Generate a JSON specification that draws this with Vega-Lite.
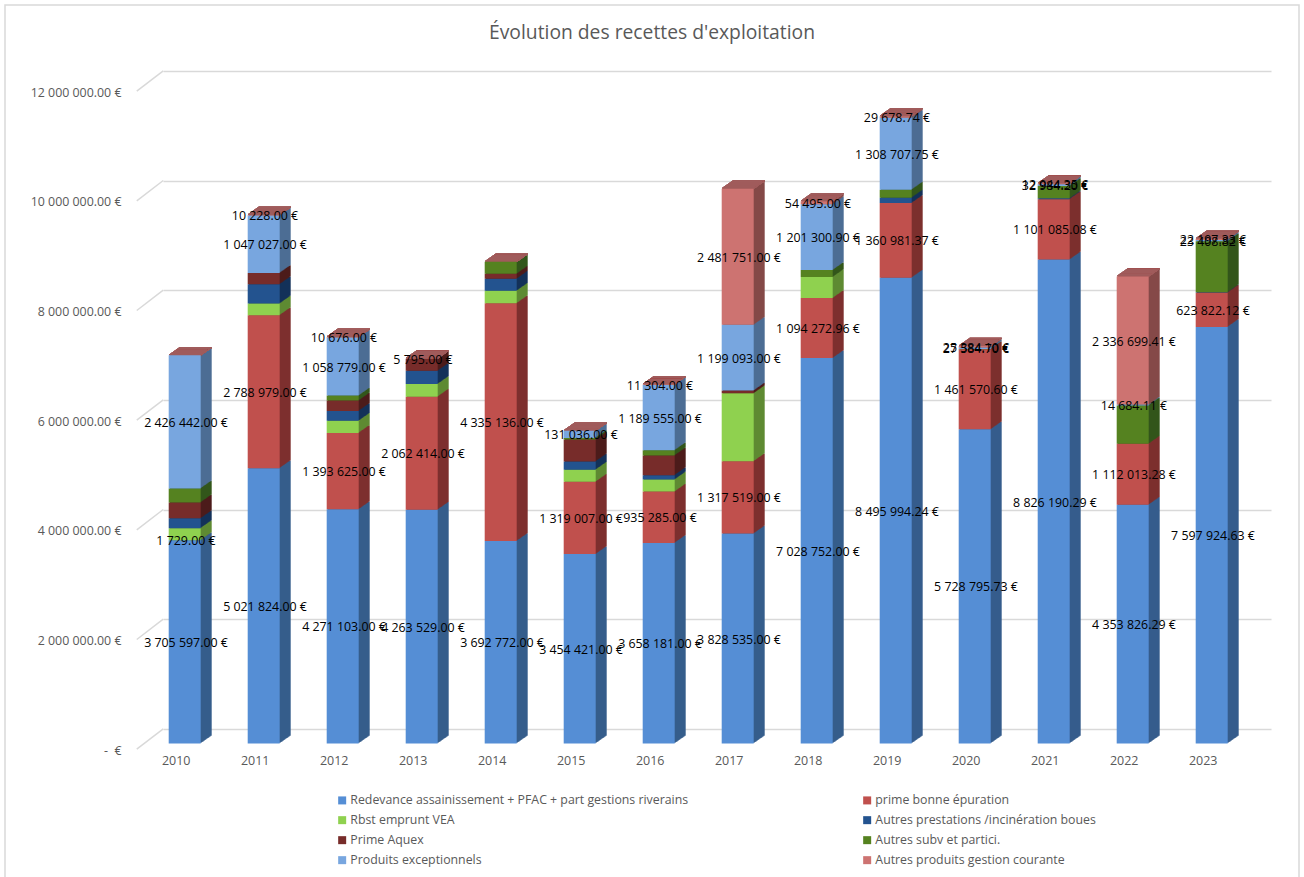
{
"$schema":"https://vega.github.io/schema/vega-lite/v6.json",
"width":1108,"height":658,
"autosize":{"type":"none"},
"padding":{"left":163,"top":71,"right":33,"bottom":148},
"background":"white",
"title":{"text":"Évolution des recettes d'exploitation","font":"Open Sans","fontSize":19.3,"fontWeight":"normal","color":"#595959","anchor":"middle","dx":-65,"offset":-39},
"config":{"view":{"stroke":null},"font":"Open Sans"},
"layer":[
{"data":{"values":[{}]},"mark":{"type":"rect","fill":"transparent","stroke":"#d9d9d9","strokeWidth":1.5},"encoding":{"x":{"value":-158},"x2":{"value":1136},"y":{"value":-66},"y2":{"value":830}}},
{"data":{"values":[{"palier":0},{"palier":2000000},{"palier":4000000},{"palier":6000000},{"palier":8000000},{"palier":10000000},{"palier":12000000}]},
 "mark":{"type":"point","shape":"M-1,0.77L1,-0.77","filled":false,"stroke":"#d9d9d9","strokeWidth":1.5,"size":700,"opacity":1,"xOffset":-53.5,"yOffset":10},
 "encoding":{"x":{"datum":"2010","type":"nominal"},"y":{"field":"palier","type":"quantitative"}}},
{"data":{"values":[
{"annee":"2010","serie":"Redevance assainissement + PFAC + part gestions riverains","montant":3705597},
{"annee":"2010","serie":"prime bonne épuration","montant":1729},
{"annee":"2010","serie":"Rbst emprunt VEA","montant":220000},
{"annee":"2010","serie":"Autres prestations /incinération boues","montant":180000},
{"annee":"2010","serie":"Prime Aquex","montant":290000},
{"annee":"2010","serie":"Autres subv et partici.","montant":255000},
{"annee":"2010","serie":"Produits exceptionnels","montant":2426442},
{"annee":"2011","serie":"Redevance assainissement + PFAC + part gestions riverains","montant":5021824},
{"annee":"2011","serie":"prime bonne épuration","montant":2788979},
{"annee":"2011","serie":"Rbst emprunt VEA","montant":213000},
{"annee":"2011","serie":"Autres prestations /incinération boues","montant":352000},
{"annee":"2011","serie":"Prime Aquex","montant":206000},
{"annee":"2011","serie":"Produits exceptionnels","montant":1047027},
{"annee":"2011","serie":"Autres produits gestion courante","montant":10228},
{"annee":"2012","serie":"Redevance assainissement + PFAC + part gestions riverains","montant":4271103},
{"annee":"2012","serie":"prime bonne épuration","montant":1393625},
{"annee":"2012","serie":"Rbst emprunt VEA","montant":220000},
{"annee":"2012","serie":"Autres prestations /incinération boues","montant":180000},
{"annee":"2012","serie":"Prime Aquex","montant":190000},
{"annee":"2012","serie":"Autres subv et partici.","montant":90000},
{"annee":"2012","serie":"Produits exceptionnels","montant":1058779},
{"annee":"2012","serie":"Autres produits gestion courante","montant":10676},
{"annee":"2013","serie":"Redevance assainissement + PFAC + part gestions riverains","montant":4263529},
{"annee":"2013","serie":"prime bonne épuration","montant":2062414},
{"annee":"2013","serie":"Rbst emprunt VEA","montant":230000},
{"annee":"2013","serie":"Autres prestations /incinération boues","montant":240000},
{"annee":"2013","serie":"Prime Aquex","montant":220000},
{"annee":"2013","serie":"Autres produits gestion courante","montant":5795},
{"annee":"2014","serie":"Redevance assainissement + PFAC + part gestions riverains","montant":3692772},
{"annee":"2014","serie":"prime bonne épuration","montant":4335136},
{"annee":"2014","serie":"Rbst emprunt VEA","montant":228000},
{"annee":"2014","serie":"Autres prestations /incinération boues","montant":219000},
{"annee":"2014","serie":"Prime Aquex","montant":91000},
{"annee":"2014","serie":"Autres subv et partici.","montant":219000},
{"annee":"2015","serie":"Redevance assainissement + PFAC + part gestions riverains","montant":3454421},
{"annee":"2015","serie":"prime bonne épuration","montant":1319007},
{"annee":"2015","serie":"Rbst emprunt VEA","montant":220000},
{"annee":"2015","serie":"Autres prestations /incinération boues","montant":150000},
{"annee":"2015","serie":"Prime Aquex","montant":400000},
{"annee":"2015","serie":"Autres subv et partici.","montant":30000},
{"annee":"2015","serie":"Produits exceptionnels","montant":131036},
{"annee":"2016","serie":"Redevance assainissement + PFAC + part gestions riverains","montant":3658181},
{"annee":"2016","serie":"prime bonne épuration","montant":935285},
{"annee":"2016","serie":"Rbst emprunt VEA","montant":220000},
{"annee":"2016","serie":"Autres prestations /incinération boues","montant":80000},
{"annee":"2016","serie":"Prime Aquex","montant":360000},
{"annee":"2016","serie":"Autres subv et partici.","montant":95000},
{"annee":"2016","serie":"Produits exceptionnels","montant":1189555},
{"annee":"2016","serie":"Autres produits gestion courante","montant":11304},
{"annee":"2017","serie":"Redevance assainissement + PFAC + part gestions riverains","montant":3828535},
{"annee":"2017","serie":"prime bonne épuration","montant":1317519},
{"annee":"2017","serie":"Rbst emprunt VEA","montant":1240000},
{"annee":"2017","serie":"Prime Aquex","montant":50000},
{"annee":"2017","serie":"Produits exceptionnels","montant":1199093},
{"annee":"2017","serie":"Autres produits gestion courante","montant":2481751},
{"annee":"2018","serie":"Redevance assainissement + PFAC + part gestions riverains","montant":7028752},
{"annee":"2018","serie":"prime bonne épuration","montant":1094272.96},
{"annee":"2018","serie":"Rbst emprunt VEA","montant":383000},
{"annee":"2018","serie":"Autres subv et partici.","montant":127000},
{"annee":"2018","serie":"Produits exceptionnels","montant":1201300.9},
{"annee":"2018","serie":"Autres produits gestion courante","montant":54495},
{"annee":"2019","serie":"Redevance assainissement + PFAC + part gestions riverains","montant":8495994.24},
{"annee":"2019","serie":"prime bonne épuration","montant":1360981.37},
{"annee":"2019","serie":"Autres prestations /incinération boues","montant":98000},
{"annee":"2019","serie":"Autres subv et partici.","montant":146000},
{"annee":"2019","serie":"Produits exceptionnels","montant":1308707.75},
{"annee":"2019","serie":"Autres produits gestion courante","montant":29678.74},
{"annee":"2020","serie":"Redevance assainissement + PFAC + part gestions riverains","montant":5728795.73},
{"annee":"2020","serie":"prime bonne épuration","montant":1461570.6},
{"annee":"2020","serie":"Autres subv et partici.","montant":5000},
{"annee":"2020","serie":"Produits exceptionnels","montant":27584.7},
{"annee":"2020","serie":"Autres produits gestion courante","montant":25384.1},
{"annee":"2021","serie":"Redevance assainissement + PFAC + part gestions riverains","montant":8826190.29},
{"annee":"2021","serie":"prime bonne épuration","montant":1101085.08},
{"annee":"2021","serie":"Autres prestations /incinération boues","montant":15000},
{"annee":"2021","serie":"Autres subv et partici.","montant":225000},
{"annee":"2021","serie":"Produits exceptionnels","montant":32984.2},
{"annee":"2021","serie":"Autres produits gestion courante","montant":12944.35},
{"annee":"2022","serie":"Redevance assainissement + PFAC + part gestions riverains","montant":4353826.29},
{"annee":"2022","serie":"prime bonne épuration","montant":1112013.28},
{"annee":"2022","serie":"Autres subv et partici.","montant":700000},
{"annee":"2022","serie":"Produits exceptionnels","montant":14684.11},
{"annee":"2022","serie":"Autres produits gestion courante","montant":2336699.41},
{"annee":"2023","serie":"Redevance assainissement + PFAC + part gestions riverains","montant":7597924.63},
{"annee":"2023","serie":"prime bonne épuration","montant":623822.12},
{"annee":"2023","serie":"Autres prestations /incinération boues","montant":8000},
{"annee":"2023","serie":"Autres subv et partici.","montant":930000},
{"annee":"2023","serie":"Produits exceptionnels","montant":23408.82},
{"annee":"2023","serie":"Autres produits gestion courante","montant":22197.33}
]},
"transform":[
{"calculate":"indexof(['Redevance assainissement + PFAC + part gestions riverains','prime bonne épuration','Rbst emprunt VEA','Autres prestations /incinération boues','Prime Aquex','Autres subv et partici.','Produits exceptionnels','Autres produits gestion courante'],datum.serie)","as":"ordre"},
{"stack":"montant","groupby":["annee"],"sort":[{"field":"ordre","order":"ascending"}],"as":["bas","haut"]},
{"joinaggregate":[{"op":"max","field":"haut","as":"total"}],"groupby":["annee"]},
{"calculate":"(datum.bas+datum.haut)/2","as":"milieu"},
{"calculate":"replace(format(datum.montant,',.2f'),/,/g,' ')+' €'","as":"etiquette"}
],
"encoding":{
 "x":{"field":"annee","type":"nominal","title":null,"scale":{"paddingInner":0,"paddingOuter":0.0127},"axis":{"labelAngle":0,"domain":false,"ticks":false,"labelOffset":-13,"labelPadding":31,"labelFont":"Open Sans","labelFontSize":12.5,"labelColor":"#595959"}},
 "y":{"field":"haut","type":"quantitative","title":null,"scale":{"domain":[0,12000000],"nice":false},"axis":{"values":[0,2000000,4000000,6000000,8000000,10000000,12000000],"domain":false,"ticks":false,"grid":true,"gridColor":"#d9d9d9","gridWidth":1.5,"labelOffset":21,"labelPadding":42,"labelFont":"Open Sans","labelFontSize":12.4,"labelColor":"#595959","labelExpr":"datum.value==0?'-\u00a0\u00a0€':replace(format(datum.value,',.2f'),/,/g,' ')+' €'"}},
 "y2":{"field":"bas"}
},
"layer":[
{"encoding":{"fill":{"field":"serie","type":"nominal","legend":null,"scale":{"domain":["Autres produits gestion courante","Produits exceptionnels","Autres subv et partici.","Prime Aquex","Autres prestations /incinération boues","Rbst emprunt VEA","prime bonne épuration","Redevance assainissement + PFAC + part gestions riverains"],"range":["#854a48","#4d6d94","#33561b","#4c1c1b","#14325a","#5f8a33","#7d302e","#365d8c"]}}},
 "layer":[
 {"mark":{"type":"bar","width":32,"xOffset":-7.8,"yOffset":6.8,"y2Offset":6.8}},
 {"mark":{"type":"bar","width":32,"xOffset":-8.8,"yOffset":7.5,"y2Offset":7.5}},
 {"mark":{"type":"bar","width":32,"xOffset":-9.8,"yOffset":8.2,"y2Offset":8.2}},
 {"mark":{"type":"bar","width":32,"xOffset":-10.8,"yOffset":8.9,"y2Offset":8.9}},
 {"mark":{"type":"bar","width":32,"xOffset":-11.8,"yOffset":9.6,"y2Offset":9.6}},
 {"mark":{"type":"bar","width":32,"xOffset":-12.8,"yOffset":10.3,"y2Offset":10.3}},
 {"mark":{"type":"bar","width":32,"xOffset":-13.8,"yOffset":11,"y2Offset":11}},
 {"mark":{"type":"bar","width":32,"xOffset":-14.8,"yOffset":11.7,"y2Offset":11.7}},
 {"mark":{"type":"bar","width":32,"xOffset":-15.8,"yOffset":12.4,"y2Offset":12.4}},
 {"mark":{"type":"bar","width":32,"xOffset":-16.8,"yOffset":13.1,"y2Offset":13.1}},
 {"mark":{"type":"bar","width":32,"xOffset":-17.8,"yOffset":13.8,"y2Offset":13.8}}
 ]},
{"encoding":{"y":{"field":"total","type":"quantitative"},"y2":{"field":"total"}},
 "layer":[
 {"mark":{"type":"bar","width":32,"color":"#a05c5c","stroke":"#a05c5c","strokeWidth":1,"xOffset":-7.8,"yOffset":6.8,"y2Offset":6.8}},
 {"mark":{"type":"bar","width":32,"color":"#a05c5c","stroke":"#a05c5c","strokeWidth":1,"xOffset":-8.8,"yOffset":7.5,"y2Offset":7.5}},
 {"mark":{"type":"bar","width":32,"color":"#a05c5c","stroke":"#a05c5c","strokeWidth":1,"xOffset":-9.8,"yOffset":8.2,"y2Offset":8.2}},
 {"mark":{"type":"bar","width":32,"color":"#a05c5c","stroke":"#a05c5c","strokeWidth":1,"xOffset":-10.8,"yOffset":8.9,"y2Offset":8.9}},
 {"mark":{"type":"bar","width":32,"color":"#a05c5c","stroke":"#a05c5c","strokeWidth":1,"xOffset":-11.8,"yOffset":9.6,"y2Offset":9.6}},
 {"mark":{"type":"bar","width":32,"color":"#a05c5c","stroke":"#a05c5c","strokeWidth":1,"xOffset":-12.8,"yOffset":10.3,"y2Offset":10.3}},
 {"mark":{"type":"bar","width":32,"color":"#a05c5c","stroke":"#a05c5c","strokeWidth":1,"xOffset":-13.8,"yOffset":11,"y2Offset":11}},
 {"mark":{"type":"bar","width":32,"color":"#a05c5c","stroke":"#a05c5c","strokeWidth":1,"xOffset":-14.8,"yOffset":11.7,"y2Offset":11.7}},
 {"mark":{"type":"bar","width":32,"color":"#a05c5c","stroke":"#a05c5c","strokeWidth":1,"xOffset":-15.8,"yOffset":12.4,"y2Offset":12.4}},
 {"mark":{"type":"bar","width":32,"color":"#a05c5c","stroke":"#a05c5c","strokeWidth":1,"xOffset":-16.8,"yOffset":13.1,"y2Offset":13.1}},
 {"mark":{"type":"bar","width":32,"color":"#a05c5c","stroke":"#a05c5c","strokeWidth":1,"xOffset":-17.8,"yOffset":13.8,"y2Offset":13.8}}
 ]},
{"mark":{"type":"bar","width":32,"xOffset":-18.8,"yOffset":14.5,"y2Offset":14.5},
 "encoding":{"color":{"field":"serie","type":"nominal","scale":{"domain":["Redevance assainissement + PFAC + part gestions riverains","Rbst emprunt VEA","Prime Aquex","Produits exceptionnels","prime bonne épuration","Autres prestations /incinération boues","Autres subv et partici.","Autres produits gestion courante"],"range":["#558ed5","#8fd14f","#772c2a","#78a6df","#c0504d","#23538f","#558220","#cd7371"]},
 "legend":{"title":null,"orient":"none","legendX":173,"legendY":723,"columns":2,"columnPadding":172,"rowPadding":7,"symbolType":"square","symbolSize":64,"symbolStrokeWidth":0,"labelOffset":2,"labelFont":"Open Sans","labelFontSize":12.33,"labelColor":"#595959","labelLimit":500}}}},
{"transform":[{"filter":{"field":"serie","oneOf":["Redevance assainissement + PFAC + part gestions riverains","prime bonne épuration","Produits exceptionnels","Autres produits gestion courante"]}}],
 "mark":{"type":"text","font":"Open Sans","fontSize":12.4,"color":"black","baseline":"middle","align":"center","xOffset":-17.5,"yOffset":15.5},
 "encoding":{"y":{"field":"milieu","type":"quantitative"},"y2":{"value":null},"text":{"field":"etiquette"}}}
]}
]}
